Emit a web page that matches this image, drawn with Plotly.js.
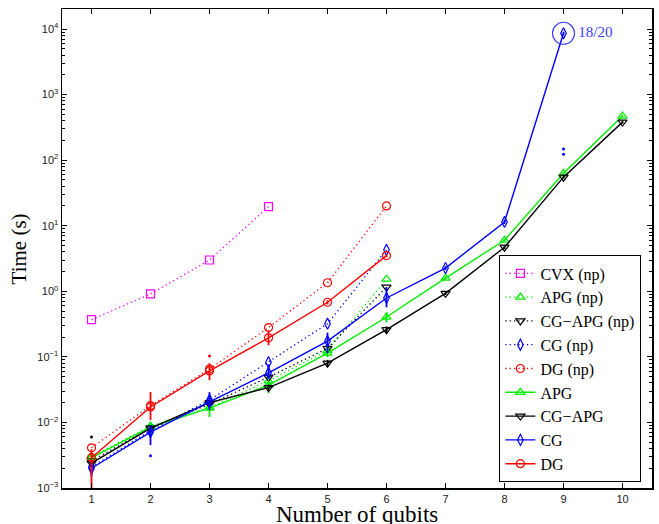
<!DOCTYPE html>
<html>
<head>
<meta charset="utf-8">
<script src="https://cdn.plot.ly/plotly-3.0.1.min.js"></script>
<style>html,body{margin:0;padding:0;background:#fff;}#chart{width:659px;height:524px;}</style>
</head>
<body>
<div id="chart"></div>
<script>
// ---- data ----
const qubitsAll = [1, 2, 3, 4, 5, 6, 7, 8, 9, 10];

const cvxNpX = [1, 2, 3, 4];
const cvxNpY = [0.37, 0.91, 3.0, 19.5];

const npX = [1, 2, 3, 4, 5, 6];
const apgNpY   = [0.0030, 0.0088, 0.017, 0.043, 0.125, 1.53];
const cgapgNpY = [0.0026, 0.0082, 0.019, 0.049, 0.135, 1.16];
const cgNpY    = [0.0021, 0.0075, 0.022, 0.083, 0.32, 4.3];
const dgNpY    = [0.0041, 0.018, 0.065, 0.28, 1.35, 20];

const apgY   = [0.0029, 0.0085, 0.0165, 0.037, 0.114, 0.405, 1.59, 6.0, 63, 470];
const cgapgY = [0.0024, 0.0082, 0.020, 0.034, 0.080, 0.26, 0.93, 4.7, 55, 380];
const cgX    = [1, 2, 3, 4, 5, 6, 7, 8, 9];
const cgY    = [0.0020, 0.0071, 0.0205, 0.057, 0.174, 0.79, 2.26, 11.4, 8600];
const dgX    = [1, 2, 3, 4, 5, 6];
const dgY    = [0.0029, 0.0172, 0.061, 0.195, 0.68, 3.5];

// spread (error bars), plus / minus
const apgErrPlus    = [0.0004, 0.001, 0.002, 0.004, 0.02, 0.07, 0.1, 0.3, 3, 20];
const apgErrMinus   = [0.0004, 0.001, 0.0044, 0.009, 0.015, 0.07, 0.1, 0.3, 3, 20];
const cgapgErrPlus  = [0.0003, 0.0008, 0.002, 0.004, 0.01, 0.03, 0.05, 0.3, 3, 20];
const cgapgErrMinus = [0.0003, 0.0008, 0.002, 0.004, 0.01, 0.03, 0.05, 0.3, 3, 20];
const cgErrPlus     = [0.0003, 0.002, 0.0085, 0.02, 0.06, 0.37, 0.15, 0.8, 500];
const cgErrMinus    = [0.0005, 0.0026, 0.005, 0.01, 0.06, 0.22, 0.15, 0.8, 500];
const dgErrPlus     = [0.0010, 0.0118, 0.019, 0.06, 0.05, 0.2];
const dgErrMinus    = [0.0019, 0.0063, 0.017, 0.045, 0.05, 0.2];

// outlier dots
const dotBlackX = [1];    const dotBlackY = [0.006];
const dotRedX   = [3];    const dotRedY   = [0.103];
const dotBlueX  = [2, 9, 9]; const dotBlueY = [0.0031, 123, 148];

const failX = [9]; const failY = [8600]; const failText = ['18/20'];

const yTickVals = [1e-3, 1e-2, 1e-1, 1, 10, 100, 1000, 10000];
const yTickText = ['10<sup>−3</sup>', '10<sup>−2</sup>', '10<sup>−1</sup>', '10<sup>0</sup>',
                   '10<sup>1</sup>', '10<sup>2</sup>', '10<sup>3</sup>', '10<sup>4</sup>'];
const yMinorVals = [];
for (let d = -3; d <= 4; d++) for (let m = 2; m <= 9; m++) yMinorVals.push(m * Math.pow(10, d));

// ---- colours ----
const MAG = '#ff00ff', GRN = '#00ee00', BLK = '#000000', BLU = '#0000ff', RED = '#ff0000';

function npTrace(name, x, y, color, symbol) {
  return {x: x, y: y, name: name, type: 'scatter', mode: 'lines+markers',
    line: {color: color, width: 1.3, dash: '1.3px,3px'},
    marker: {symbol: symbol, size: 8, color: color, line: {color: color, width: 1.2}}};
}
function solidTrace(name, x, y, color, symbol, plus, minus) {
  return {x: x, y: y, name: name, type: 'scatter', mode: 'lines+markers',
    line: {color: color, width: 1.4},
    marker: {symbol: symbol, size: 8, color: color, line: {color: color, width: 1.2}},
    error_y: {type: 'data', symmetric: false, array: plus, arrayminus: minus,
              color: color, thickness: 1.8, width: 0}};
}
function dotTrace(x, y, color) {
  return {x: x, y: y, type: 'scatter', mode: 'markers', showlegend: false, hoverinfo: 'skip',
    marker: {symbol: 'circle', size: 3, color: color}};
}

const sym = {sq: 'square-open', up: 'triangle-up-open', dn: 'triangle-down-open', di: 'diamond-tall-open', ci: 'circle-open'};

const traces = [
  npTrace('CVX (np)', cvxNpX, cvxNpY, MAG, sym.sq),
  npTrace('APG (np)', npX, apgNpY, GRN, sym.up),
  npTrace('CG−APG (np)', npX, cgapgNpY, BLK, sym.dn),
  npTrace('CG (np)', npX, cgNpY, BLU, sym.di),
  npTrace('DG (np)', npX, dgNpY, RED, sym.ci),
  solidTrace('APG', qubitsAll, apgY, GRN, sym.up, apgErrPlus, apgErrMinus),
  solidTrace('CG−APG', qubitsAll, cgapgY, BLK, sym.dn, cgapgErrPlus, cgapgErrMinus),
  solidTrace('CG', cgX, cgY, BLU, sym.di, cgErrPlus, cgErrMinus),
  solidTrace('DG', dgX, dgY, RED, sym.ci, dgErrPlus, dgErrMinus),
  dotTrace(dotBlackX, dotBlackY, BLK),
  dotTrace(dotRedX, dotRedY, RED),
  dotTrace(dotBlueX, dotBlueY, BLU),
  {x: failX, y: failY, text: failText, type: 'scatter', mode: 'markers+text', showlegend: false,
   hoverinfo: 'skip', textposition: 'middle right',
   textfont: {family: 'Liberation Serif, serif', size: 15, color: '#3a3aff'},
   marker: {symbol: 'circle-open', size: 22, color: '#3a3aff', line: {color: '#3a3aff', width: 1.1}}},
  // carrier for the minor-tick overlay axis
  {x: [1], y: [1], yaxis: 'y2', type: 'scatter', mode: 'markers', showlegend: false,
   hoverinfo: 'skip', marker: {opacity: 0}}
];

const axisCommon = {
  showline: true, linecolor: '#000', linewidth: 1.5, mirror: 'ticks',
  ticks: 'inside', ticklen: 5, tickcolor: '#000', tickwidth: 1,
  showgrid: false, zeroline: false,
  tickfont: {family: 'Liberation Sans, Arial, sans-serif', size: 11, color: '#222'}
};

const layout = {
  width: 659, height: 524,
  margin: {l: 62, r: 7, t: 9, b: 36},
  paper_bgcolor: '#fff', plot_bgcolor: '#fff',
  showlegend: true,
  xaxis: Object.assign({}, axisCommon, {
    range: [0.5, 10.5], tickvals: qubitsAll, ticktext: qubitsAll.map(String)
  }),
  yaxis: Object.assign({}, axisCommon, {
    type: 'log', range: [-3, 4.305], tickvals: yTickVals, ticktext: yTickText
  }),
  yaxis2: {
    overlaying: 'y', side: 'left', type: 'log', range: [-3, 4.305],
    tickvals: yMinorVals, showticklabels: false, ticks: 'inside', ticklen: 3,
    tickcolor: '#000', tickwidth: 1, mirror: 'ticks', showline: false,
    showgrid: false, zeroline: false
  },
  legend: {
    x: 0.741, y: 0.486, xanchor: 'left', yanchor: 'top',
    bordercolor: '#000', borderwidth: 1.2, bgcolor: '#fff',
    font: {family: 'Liberation Serif, serif', size: 16, color: '#000'},
    tracegroupgap: 0
  },
  annotations: [
    {text: 'Time (s)', xref: 'paper', yref: 'paper', x: -0.073, y: 0.5, xanchor: 'center',
     yanchor: 'middle', textangle: -90,
     showarrow: false, font: {family: 'Liberation Serif, serif', size: 21, color: '#000'}},
    {text: 'Number of qubits', xref: 'paper', yref: 'paper', x: 0.5, y: -0.056, xanchor: 'center',
     yanchor: 'middle',
     showarrow: false, font: {family: 'Liberation Serif, serif', size: 23, color: '#000'}}
  ]
};

Plotly.newPlot('chart', traces, layout, {displayModeBar: false, staticPlot: true});
</script>
</body>
</html>
